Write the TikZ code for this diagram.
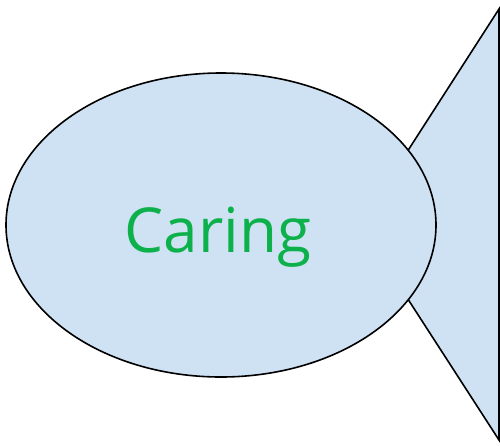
\documentclass[tikz,border=0pt]{standalone}
\usepackage{fontspec}
\setmainfont{Open Sans}
\usetikzlibrary{shapes.geometric}
\definecolor{fishfill}{HTML}{CFE2F3}
\definecolor{fishtext}{HTML}{0DB14B}
\begin{document}
\begin{tikzpicture}[x=1pt,y=-1pt,
  fishpart/.style={draw=black,fill=fishfill,line width=1.6pt,line join=miter},
  label/.style={text=fishtext,font=\fontsize{62}{62}\selectfont}]
\useasboundingbox (0,0) rectangle (500,445);
\coordinate (apex) at (360,225);
\coordinate (tailtop) at (499,9);
\coordinate (tailbot) at (499,440);
\draw[fishpart] (apex) -- (tailtop) -- (tailbot) -- cycle;
\node[fishpart,ellipse,minimum width=430pt,minimum height=304pt,inner sep=0pt] (body) at (221,225) {};
\node[label,anchor=base] (caring) at (218,252) {Caring};
\end{tikzpicture}
\end{document}
